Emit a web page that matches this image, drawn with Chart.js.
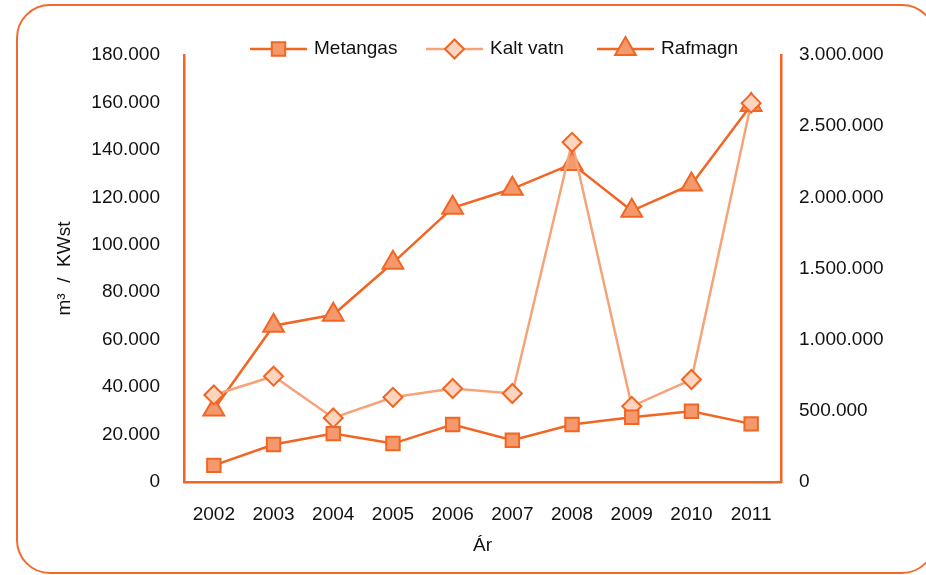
<!DOCTYPE html>
<html>
<head>
<meta charset="utf-8">
<script src="https://cdn.jsdelivr.net/npm/chart.js@4/dist/chart.umd.min.js"></script>
<style>
  html, body { margin: 0; padding: 0; background: #fff; }
  #wrap { position: relative; width: 926px; height: 575px; overflow: hidden; }
  #frame { position: absolute; left: 16px; top: 4px; width: 920px; height: 570px; box-sizing: border-box;
           border: 2.5px solid #F26B2C; border-radius: 34px; }
  #chart { position: absolute; left: 0; top: 0; }
</style>
</head>
<body>
<div id="wrap">
  <div id="frame"></div>
  <canvas id="chart" width="926" height="575"></canvas>
</div>
<script>
// data
const years = ['2002', '2003', '2004', '2005', '2006', '2007', '2008', '2009', '2010', '2011'];
const metangas = [7000, 15800, 20400, 16200, 24200, 17600, 24200, 27300, 29800, 24500];
const kaltVatn = [36700, 44600, 27000, 35700, 39400, 37300, 143200, 31900, 43200, 159700];
const rafmagn = [509000, 1098000, 1175000, 1540000, 1926000, 2060000, 2235000, 1905000, 2091000, 2649000];

const FONT = "'Liberation Sans', Arial, sans-serif";
const FSIZE = 19;
const ORANGE = '#F26522';
const TEXT = '#111111';

// 180000 -> "180.000"
function fmt(v) {
    return String(v).replace(/\B(?=(\d{3})+(?!\d))/g, '.');
}

// legend drawn as line + marker, like the original
const legendX = [250, 426, 597];
const lineLegend = {
    id: 'lineLegend',
    afterDraw(chart) {
        const ctx = chart.ctx;
        const y = 49;
        ctx.save();
        ctx.font = FSIZE + 'px ' + FONT;
        ctx.textBaseline = 'middle';
        chart.data.datasets.forEach((ds, i) => {
            const x = legendX[i];
            ctx.strokeStyle = ds.borderColor;
            ctx.lineWidth = ds.borderWidth;
            ctx.beginPath();
            ctx.moveTo(x, y);
            ctx.lineTo(x + 57, y);
            ctx.stroke();
            ctx.fillStyle = ds.pointBackgroundColor;
            ctx.strokeStyle = ds.pointBorderColor;
            ctx.lineWidth = ds.pointBorderWidth;
            Chart.helpers.drawPoint(ctx, {
                pointStyle: ds.pointStyle,
                radius: ds.pointRadius,
                borderWidth: ds.pointBorderWidth,
                rotation: 0
            }, x + 28.5, y);
            ctx.fillStyle = TEXT;
            ctx.textAlign = 'left';
            ctx.fillText(ds.label, x + 64, y);
        });
        ctx.restore();
    }
};

const ctx = document.getElementById('chart').getContext('2d');
const chart = new Chart(ctx, {
    type: 'line',
    data: {
        labels: years,
        datasets: [{
            label: 'Metangas',
            data: metangas,
            yAxisID: 'y',
            borderColor: ORANGE,
            borderWidth: 2.5,
            pointStyle: 'rect',
            pointRadius: 9.5,
            pointHoverRadius: 9.5,
            pointBackgroundColor: '#F4996B',
            pointBorderColor: ORANGE,
            pointBorderWidth: 2,
            tension: 0
        }, {
            label: 'Kalt vatn',
            data: kaltVatn,
            yAxisID: 'y',
            borderColor: '#F7A37A',
            borderWidth: 2.5,
            pointStyle: 'rectRot',
            pointRadius: 9.5,
            pointHoverRadius: 9.5,
            pointBackgroundColor: '#FDD5BE',
            pointBorderColor: ORANGE,
            pointBorderWidth: 2,
            tension: 0
        }, {
            label: 'Rafmagn',
            data: rafmagn,
            yAxisID: 'y1',
            borderColor: ORANGE,
            borderWidth: 2.5,
            pointStyle: 'triangle',
            pointRadius: 12,
            pointHoverRadius: 12,
            pointBackgroundColor: '#F4996B',
            pointBorderColor: ORANGE,
            pointBorderWidth: 2,
            tension: 0
        }]
    },
    options: {
        responsive: false,
        animation: false,
        layout: { padding: { top: 55, left: 0, right: 0, bottom: 0 } },
        plugins: {
            legend: { display: false },
            tooltip: { enabled: false }
        },
        scales: {
            x: {
                offset: true,
                grid: { display: false, drawTicks: false },
                border: { display: true, color: ORANGE, width: 2.5 },
                ticks: { color: TEXT, font: { family: FONT, size: FSIZE }, padding: 21, maxRotation: 0, autoSkip: false },
                title: { display: true, text: 'Ár', color: TEXT, font: { family: FONT, size: FSIZE }, padding: { top: 0, bottom: 18 } },
                afterFit(s) { s.height = 93; }
            },
            y: {
                position: 'left',
                min: 0,
                max: 180000,
                grid: { display: false, drawTicks: false },
                border: { display: true, color: ORANGE, width: 2.5 },
                ticks: { stepSize: 20000, padding: 24, color: TEXT, font: { family: FONT, size: FSIZE }, callback: fmt },
                title: { display: true, text: 'm³  /  KWst', color: TEXT, font: { family: FONT, size: FSIZE }, padding: { top: 53, bottom: 0 } },
                afterFit(s) { s.width = 184; }
            },
            y1: {
                position: 'right',
                min: 0,
                max: 3000000,
                grid: { display: false, drawTicks: false },
                border: { display: true, color: ORANGE, width: 2.5 },
                ticks: { stepSize: 500000, padding: 18, color: TEXT, font: { family: FONT, size: FSIZE }, callback: fmt },
                afterFit(s) { s.width = 145; }
            }
        }
    },
    plugins: [lineLegend]
});
</script>
</body>
</html>
